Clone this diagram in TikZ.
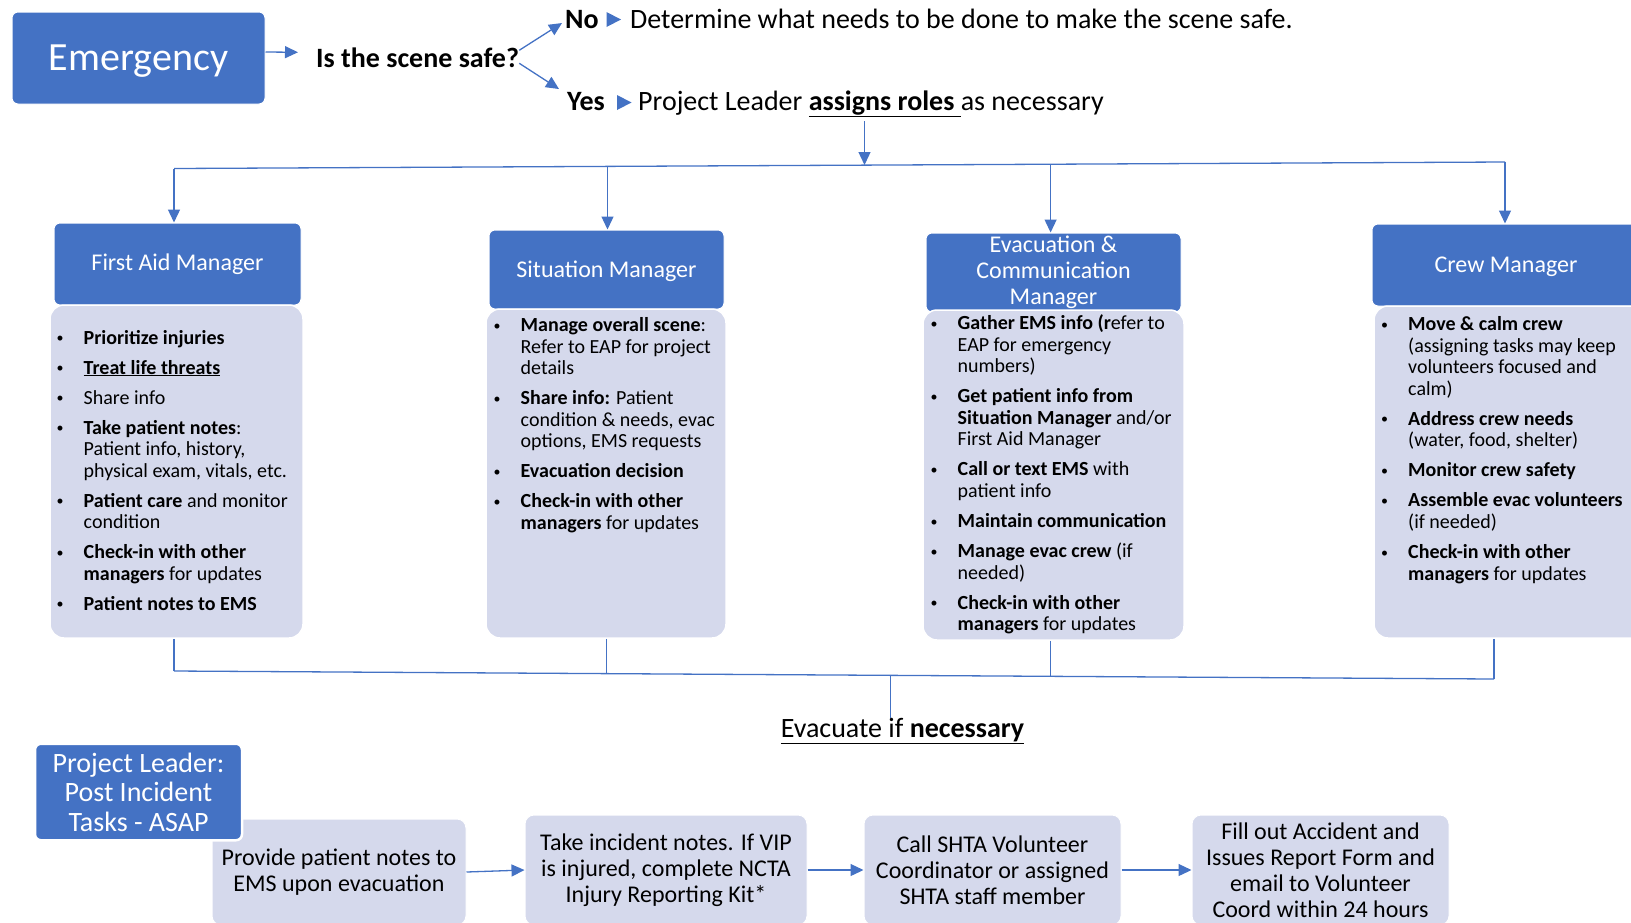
\documentclass[tikz,border=0pt]{standalone}
\usepackage{fontspec}
\setmainfont{Carlito}
\usetikzlibrary{arrows.meta,calc}
\definecolor{accent}{HTML}{4472C4}
\definecolor{lav}{HTML}{D5D9EC}
\newcommand\bu{\hbox to 28.5pt{\hbox to 10pt{\hss\raisebox{1.5pt}{\fontsize{14}{14}\selectfont\textbullet}\hss}\hfil}}
\newcommand\gap{\\[8.4pt]}
\tikzset{
 arr/.style={draw=accent, line width=1.3pt, -{Triangle[length=13pt,width=12pt]}},
 ln/.style={draw=accent, line width=1.3pt},
 hdr/.style={fill=accent, draw=white, line width=1pt, rounded corners=6pt, text=white, font=\fontsize{24}{26}\selectfont, align=center, inner sep=0},
 body/.style={fill=lav, draw=white, line width=1.5pt, rounded corners=14pt, inner sep=0},
 btxt/.style={anchor=base west, inner sep=0, font=\fontsize{20}{21.6}\selectfont},
 flow/.style={fill=lav, draw=white, line width=1pt, rounded corners=9pt, inner sep=0, align=center, font=\fontsize{24}{26}\selectfont},
 toptxt/.style={anchor=base west, inner sep=0, font=\fontsize{28}{30}\selectfont},
 bigbox/.style={fill=accent, draw=white, rounded corners=6pt, text=white, inner sep=0, align=center},
}
\begin{document}
\begin{tikzpicture}[x=1pt,y=-1pt]
\useasboundingbox (0,0) rectangle (1631,922);
% top row
\node[bigbox, line width=1pt, minimum width=253, minimum height=92, text depth=0pt, font=\fontsize{40}{44}\selectfont] (em) at (138.5,58) {Emergency};
\node[toptxt, font=\fontsize{28}{30}\selectfont\bfseries] (q) at (316,67) {Is the scene safe?};
\node[toptxt, font=\fontsize{28}{30}\selectfont\bfseries] (no) at (565,28.5) {No};
\node[toptxt] (det) at (630,28.5) {Determine what needs to be done to make the scene safe.};
\node[toptxt, font=\fontsize{28}{30}\selectfont\bfseries] (yes) at (567,110.5) {Yes};
\node[toptxt] (pl) at (638,110.5) {Project Leader \underline{\textbf{assigns roles}\ }as necessary};
\fill[accent] (606.5,12) -- (621,19.5) -- (606.5,27) -- cycle;
\fill[accent] (617,95) -- (631.5,102.5) -- (617,110) -- cycle;
\draw[arr] ($(em.east)+(0,-6)$) -- ($(q.west)+(-18,-5)$);
\draw[arr] ($(q.east)+(0,-7)$) -- ($(no.west)+(-3,3.5)$);
\draw[arr] ($(q.east)+(0,6)$) -- ($(yes.west)+(-8,-12.5)$);
% distribution line
\coordinate (t1) at (174,168.5);
\coordinate (t2) at (607.5,166.3);
\coordinate (tm) at (864.5,165);
\coordinate (t3) at (1050.6,164.2);
\coordinate (t4) at (1505,162);
\draw[arr] ($(pl.south -| tm)+(0,4)$) -- (tm);
\draw[ln] (t1) -- (t4);
% headers
\node[hdr, minimum width=247, minimum height=82] (fah) at (177.5,264) {First Aid Manager};
\node[hdr, minimum width=235, minimum height=79, text depth=0pt] (sih) at (606.5,269.5) {Situation Manager};
\node[hdr, minimum width=255, minimum height=79] (evh) at (1053.5,272.5) {Evacuation \&\\Communication\\Manager};
\node[hdr, minimum width=268, minimum height=82, text depth=0pt] (crh) at (1506,265) {Crew Manager};
\draw[arr] (t1) -- (t1 |- fah.north);
\draw[arr] (t2) -- (t2 |- sih.north);
\draw[arr] (t3) -- (t3 |- evh.north);
\draw[arr] (t4) -- (t4 |- crh.north);
% bodies
\node[body, minimum width=253, minimum height=333] (fab) at (176.5,471.5) {};
\node[body, minimum width=240, minimum height=329] (sib) at (606,473.5) {};
\node[body, minimum width=261, minimum height=330] (evb) at (1053.5,475) {};
\node[body, minimum width=271, minimum height=332] (crb) at (1509.5,472) {};
\node[btxt] (fat) at (55,344) {\begin{tabular}[t]{@{}l@{}l@{}}
\bu & \textbf{Prioritize injuries}\gap
\bu & \underline{\textbf{Treat life threats}}\gap
\bu & Share info\gap
\bu & \textbf{Take patient notes}:\\
    & Patient info, history,\\
    & physical exam, vitals, etc.\gap
\bu & \textbf{Patient care} and monitor\\
    & condition\gap
\bu & \textbf{Check-in with other}\\
    & \textbf{managers} for updates\gap
\bu & \textbf{Patient notes to EMS}
\end{tabular}};
\node[btxt] (sit) at (492,331.5) {\begin{tabular}[t]{@{}l@{}l@{}}
\bu & \textbf{Manage overall scene}:\\
    & Refer to EAP for project\\
    & details\gap
\bu & \textbf{Share info:} Patient\\
    & condition \& needs, evac\\
    & options, EMS requests\gap
\bu & \textbf{Evacuation decision}\gap
\bu & \textbf{Check-in with other}\\
    & \textbf{managers} for updates
\end{tabular}};
\node[btxt] (ect) at (929,329.5) {\begin{tabular}[t]{@{}l@{}l@{}}
\bu & \textbf{Gather EMS info (r}efer to\\
    & EAP for emergency\\
    & numbers)\gap
\bu & \textbf{Get patient info from}\\
    & \textbf{Situation Manager} and/or\\
    & First Aid Manager\gap
\bu & \textbf{Call or text EMS} with\\
    & patient info\gap
\bu & \textbf{Maintain communication}\gap
\bu & \textbf{Manage evac crew} (if\\
    & needed)\gap
\bu & \textbf{Check-in with other}\\
    & \textbf{managers} for updates
\end{tabular}};
\node[btxt] (crt) at (1379.5,330.5) {\begin{tabular}[t]{@{}l@{}l@{}}
\bu & \textbf{Move \& calm crew}\\
    & (assigning tasks may keep\\
    & volunteers focused and\\
    & calm)\gap
\bu & \textbf{Address crew needs}\\
    & (water, food, shelter)\gap
\bu & \textbf{Monitor crew safety}\gap
\bu & \textbf{Assemble evac volunteers}\\
    & (if needed)\gap
\bu & \textbf{Check-in with other}\\
    & \textbf{managers} for updates
\end{tabular}};
% gathering line
\coordinate (j1) at (174,671);
\coordinate (j2) at (606.5,673.5);
\coordinate (jm) at (890.5,675.4);
\coordinate (j3) at (1050.5,676);
\coordinate (j4) at (1494,679);
\node[toptxt, anchor=base] (evn) at (902.5,737) {\underline{Evacuate if \textbf{necessary}}};
\draw[ln] (fab.south -| j1) -- (j1);
\draw[ln] (sib.south -| j2) -- (j2);
\draw[ln] (evb.south -| j3) -- (j3);
\draw[ln] (crb.south -| j4) -- (j4);
\draw[ln] (j1) -- (j4);
\draw[ln] (jm) -- (jm |- evn.north);
% post incident row
\node[flow, minimum width=254, minimum height=106] (b1) at (339,872) {Provide patient notes to\\EMS upon evacuation};
\node[flow, minimum width=282, minimum height=110] (b2) at (666,870) {Take incident notes. If VIP\\is injured, complete NCTA\\Injury Reporting Kit*};
\node[flow, minimum width=257, minimum height=110] (b3) at (992.5,870) {Call SHTA Volunteer\\Coordinator or assigned\\SHTA staff member};
\node[flow, minimum width=257, minimum height=110] (b4) at (1320.5,870) {Fill out Accident and\\Issues Report Form and\\email to Volunteer\\Coord within 24 hours};
\node[bigbox, line width=2.5pt, minimum width=207, minimum height=96.5, font=\fontsize{28}{29.5}\selectfont] (pj) at (138.5,792) {Project Leader:\\Post Incident\\Tasks - ASAP};
\draw[arr] (b1.east) -- (b2.west);
\draw[arr] (b2.east) -- (b3.west);
\draw[arr] (b3.east) -- (b4.west);
\end{tikzpicture}
\end{document}
